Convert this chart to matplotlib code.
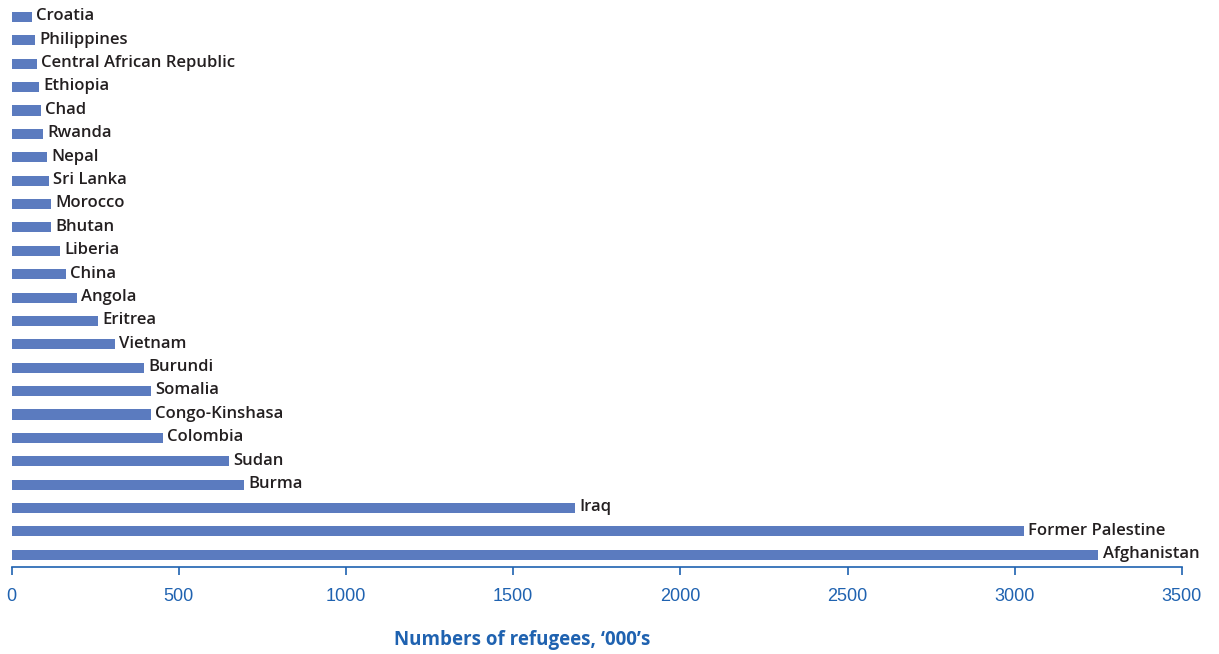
import matplotlib
matplotlib.use("Agg")
import matplotlib.pyplot as plt

countries = [
    "Afghanistan", "Former Palestine", "Iraq", "Burma", "Sudan", "Colombia",
    "Congo-Kinshasa", "Somalia", "Burundi", "Vietnam", "Eritrea", "Angola",
    "China", "Liberia", "Bhutan", "Morocco", "Sri Lanka", "Nepal", "Rwanda",
    "Chad", "Ethiopia", "Central African Republic", "Philippines", "Croatia",
]
refugees = [
    3250, 3028, 1685, 695, 650, 453,
    417, 417, 396, 309, 258, 195,
    162, 144, 118, 118, 112, 106, 94,
    87, 82, 75, 70, 61,
]
xticks = [0, 500, 1000, 1500, 2000, 2500, 3000, 3500]

bar_color = "#5b7bbf"
axis_blue = "#1f62b0"

fig = plt.figure(figsize=(12.19, 6.54), dpi=100)
ax = fig.add_axes([0.0096, 0.133, 0.960, 0.859])

ypos = list(range(len(countries)))
ax.barh(ypos, refugees, height=0.43, color=bar_color, left=0)

for y, v, name in zip(ypos, refugees, countries):
    ax.annotate(name, xy=(v, y), xytext=(3, 0.5), textcoords="offset points",
                va="center", ha="left", fontsize=12, fontweight="semibold",
                family=["Open Sans", "DejaVu Sans"], color="#231f20")

ax.set_xlim(0, 3500)
ax.set_ylim(-0.52, 23.5)
ax.set_yticks([])
ax.set_xticks(xticks)
ax.set_xticklabels([str(t) for t in xticks], family="Liberation Sans",
                   fontsize=13, color=axis_blue)
ax.tick_params(axis="x", direction="out", length=6, width=1.2,
               color=axis_blue, pad=9)

for side in ("top", "right", "left"):
    ax.spines[side].set_visible(False)
ax.spines["bottom"].set_color(axis_blue)
ax.spines["bottom"].set_linewidth(1.2)

ax.set_xlabel("Numbers of refugees, \u2018000\u2019s", fontsize=13.5,
              fontweight="bold", family=["Open Sans", "DejaVu Sans"],
              color=axis_blue)
ax.xaxis.set_label_coords(0.436, -0.113)

fig.savefig("out.png", dpi=100)
